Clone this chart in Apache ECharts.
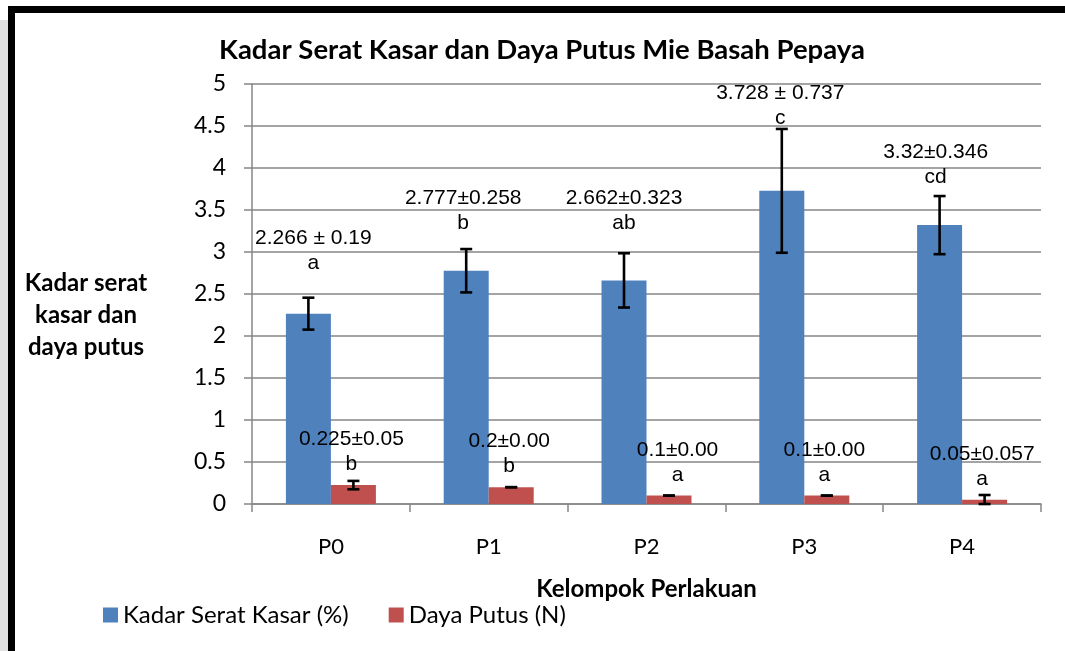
<!DOCTYPE html>
<html>
<head>
<meta charset="utf-8">
<script src="https://cdn.jsdelivr.net/npm/echarts@6/dist/echarts.min.js"></script>
<style>
  html, body { margin: 0; padding: 0; background: #fff; }
  #chart { width: 1065px; height: 651px; }
</style>
</head>
<body>
<div id="chart"></div>
<script>
// data
var kelompok = ['P0', 'P1', 'P2', 'P3', 'P4'];
var seratKasar = [2.266, 2.777, 2.662, 3.728, 3.32];
var seratSD = [0.19, 0.258, 0.323, 0.737, 0.346];
var seratNotasi = ['a', 'b', 'ab', 'c', 'cd'];
var seratTeks = ['2.266 ± 0.19', '2.777±0.258', '2.662±0.323', '3.728 ± 0.737', '3.32±0.346'];
var dayaPutus = [0.225, 0.2, 0.1, 0.1, 0.05];
var dayaSD = [0.05, 0, 0, 0, 0.057];
var dayaNotasi = ['b', 'b', 'a', 'a', 'a'];
var dayaTeks = ['0.225±0.05', '0.2±0.00', '0.1±0.00', '0.1±0.00', '0.05±0.057'];
var yTicks = {min: 0, max: 5, step: 0.5};

// layout (label nudges, like the hand-moved labels in the original)
var BAR_W = 45;
var seratGeser = [[5, -33], [-3, -30], [0, -40], [-1.5, -55], [-4, -30]];
var dayaGeser = [[-2, -3], [-2, -3], [8.5, -3], [-2.5, -3], [-2.5, -3]];

var biru = '#4f81bd', merah = '#c0504d', abu = '#868686';
var fontCal = 'Lato, "Noto Sans", sans-serif';
var fontAr = '"Liberation Sans", Arial, sans-serif';

function itemBar(vals, teks, notasi, geser) {
    return vals.map(function (v, i) {
        return {
            value: v,
            label: { offset: geser[i], formatter: teks[i] + '\n' + notasi[i] }
        };
    });
}

function errorSeries(vals, sd, dx) {
    return {
        type: 'custom',
        silent: true,
        z: 5,
        data: vals.map(function (v, i) { return [i, v - sd[i], v + sd[i]]; }),
        renderItem: function (params, api) {
            var lo = api.coord([api.value(0), Math.max(0, api.value(1))]);
            var hi = api.coord([api.value(0), api.value(2)]);
            var x = lo[0] + dx;
            var cap = 6;
            var st = { stroke: '#000', lineWidth: 2.6 };
            return {
                type: 'group',
                children: [
                    { type: 'line', shape: { x1: x, y1: lo[1], x2: x, y2: hi[1] }, style: st },
                    { type: 'line', shape: { x1: x - cap, y1: lo[1], x2: x + cap, y2: lo[1] }, style: st },
                    { type: 'line', shape: { x1: x - cap, y1: hi[1], x2: x + cap, y2: hi[1] }, style: st }
                ]
            };
        }
    };
}

var myChart = echarts.init(document.getElementById('chart'));
var labelStyle = {
    show: true,
    position: 'top',
    color: '#000',
    fontFamily: fontAr,
    fontSize: 21,
    lineHeight: 25
};
var option = {
    backgroundColor: '#fff',
    animation: false,
    title: {
        text: 'Kadar Serat Kasar dan Daya Putus Mie Basah Pepaya',
        left: 537,
        top: 31,
        textAlign: 'center',
        textStyle: { fontFamily: fontCal, fontWeight: 'bold', fontSize: 27.5, color: '#000' }
    },
    legend: {
        left: 98,
        top: 598,
        itemWidth: 15,
        itemHeight: 15,
        itemGap: 40,
        icon: 'rect',
        textStyle: { fontFamily: fontCal, fontSize: 24, color: '#000' },
        data: ['Kadar Serat Kasar (%)', 'Daya Putus (N)']
    },
    grid: { left: 252, right: 24, top: 84, bottom: 147 },
    xAxis: {
        type: 'category',
        data: kelompok,
        name: 'Kelompok Perlakuan',
        nameLocation: 'middle',
        nameGap: 73,
        nameTextStyle: { fontFamily: fontCal, fontWeight: 'bold', fontSize: 24, color: '#000' },
        axisLine: { lineStyle: { color: abu, width: 1.5 } },
        axisTick: { show: true, length: 8, lineStyle: { color: abu, width: 1.5 } },
        axisLabel: { margin: 32, fontFamily: fontCal, fontSize: 22, color: '#000' },
        splitLine: { show: false }
    },
    yAxis: {
        type: 'value',
        min: yTicks.min,
        max: yTicks.max,
        interval: yTicks.step,
        axisLine: { show: true, lineStyle: { color: abu, width: 1.5 } },
        axisTick: { show: true, length: 8, lineStyle: { color: abu, width: 1.5 } },
        axisLabel: { margin: 26, fontFamily: fontCal, fontSize: 23, color: '#000' },
        splitLine: { lineStyle: { color: abu, width: 1.5 } }
    },
    graphic: [
        { type: 'rect', shape: { x: 0, y: 20, width: 8, height: 631 }, style: { fill: '#e2e2e2' } },
        { type: 'rect', shape: { x: 8, y: 6, width: 1057, height: 7 }, style: { fill: '#000' } },
        { type: 'rect', shape: { x: 8, y: 6, width: 7, height: 645 }, style: { fill: '#000' } },
        {
            type: 'text',
            x: 86,
            y: 315,
            style: {
                text: 'Kadar serat\nkasar dan\ndaya putus',
                textAlign: 'center',
                textVerticalAlign: 'middle',
                fontFamily: fontCal,
                fontWeight: 'bold',
                fontSize: 24,
                lineHeight: 32,
                fill: '#000'
            }
        }
    ],
    series: [
        {
            name: 'Kadar Serat Kasar (%)',
            type: 'bar',
            barWidth: BAR_W,
            barGap: '0%',
            itemStyle: { color: biru },
            label: labelStyle,
            data: itemBar(seratKasar, seratTeks, seratNotasi, seratGeser)
        },
        {
            name: 'Daya Putus (N)',
            type: 'bar',
            barWidth: BAR_W,
            barGap: '0%',
            itemStyle: { color: merah },
            label: labelStyle,
            data: itemBar(dayaPutus, dayaTeks, dayaNotasi, dayaGeser)
        },
        errorSeries(seratKasar, seratSD, -BAR_W / 2),
        errorSeries(dayaPutus, dayaSD, BAR_W / 2)
    ]
};
myChart.setOption(option);
</script>
</body>
</html>
